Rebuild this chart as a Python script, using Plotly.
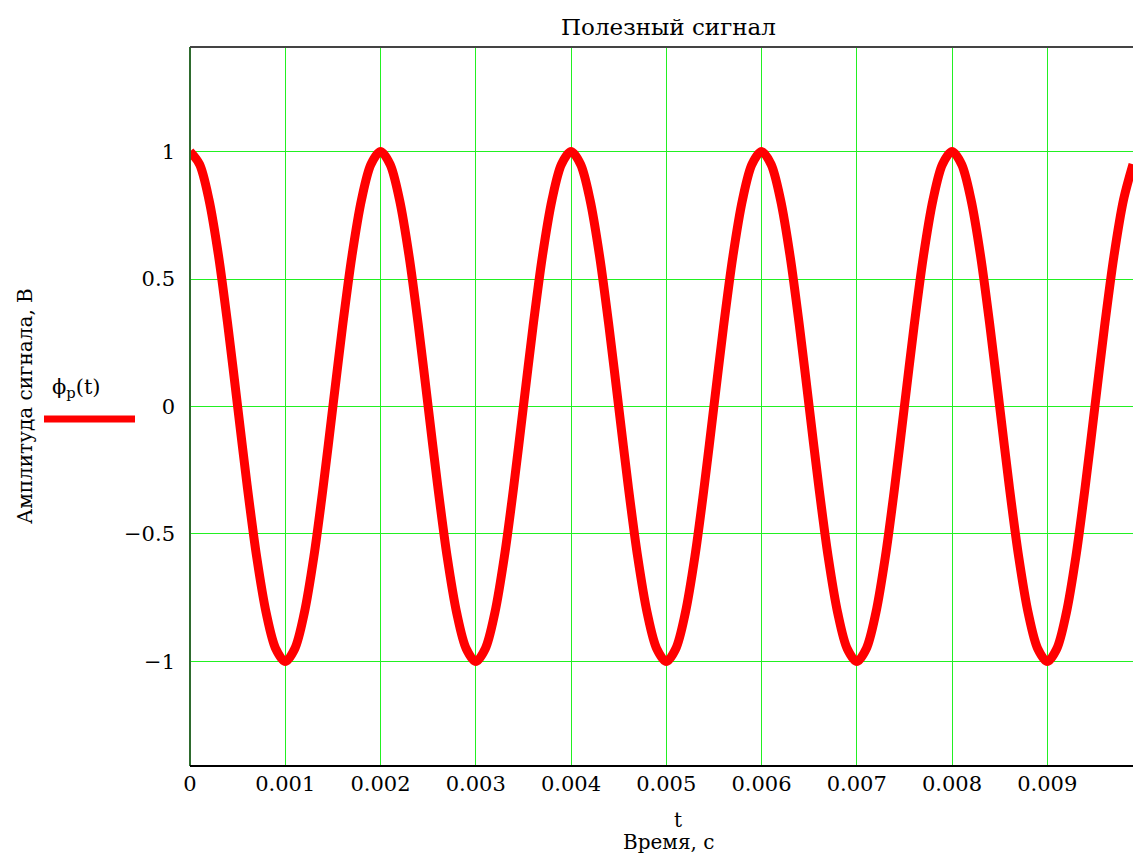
import plotly.graph_objects as go

# Sampled useful signal: amplitude readings every 0.1 ms, 0 … 9.9 ms
sample_step = 0.0001
amplitude = [
    1.00, 0.95, 0.81, 0.59, 0.31, 0.00, -0.31, -0.59, -0.81, -0.95,
    -1.00, -0.95, -0.81, -0.59, -0.31, 0.00, 0.31, 0.59, 0.81, 0.95,
    1.00, 0.95, 0.81, 0.59, 0.31, 0.00, -0.31, -0.59, -0.81, -0.95,
    -1.00, -0.95, -0.81, -0.59, -0.31, 0.00, 0.31, 0.59, 0.81, 0.95,
    1.00, 0.95, 0.81, 0.59, 0.31, 0.00, -0.31, -0.59, -0.81, -0.95,
    -1.00, -0.95, -0.81, -0.59, -0.31, 0.00, 0.31, 0.59, 0.81, 0.95,
    1.00, 0.95, 0.81, 0.59, 0.31, 0.00, -0.31, -0.59, -0.81, -0.95,
    -1.00, -0.95, -0.81, -0.59, -0.31, 0.00, 0.31, 0.59, 0.81, 0.95,
    1.00, 0.95, 0.81, 0.59, 0.31, 0.00, -0.31, -0.59, -0.81, -0.95,
    -1.00, -0.95, -0.81, -0.59, -0.31, 0.00, 0.31, 0.59, 0.81, 0.95,
]
time_s = [round(i * sample_step, 4) for i in range(len(amplitude))]

x_tick_vals = [0, 0.001, 0.002, 0.003, 0.004, 0.005, 0.006, 0.007, 0.008, 0.009]
x_tick_text = ["0", "0.001", "0.002", "0.003", "0.004", "0.005", "0.006", "0.007", "0.008", "0.009"]
y_tick_vals = [-1, -0.5, 0, 0.5, 1]
y_tick_text = ["\u22121", "\u22120.5", "0", "0.5", "1"]

title_text = "Полезный сигнал"
x_title = "t"
x_title2 = "Время, с"
y_title = "Амплитуда сигнала, В"
legend_text = "\u03d5<sub>p</sub>(t)"

W, H = 1133, 856
L, R, T, B = 190, 0, 47, 90
plot_h = H - T - B
plot_w = W - L - R
FONT = "DejaVu Serif"
TICK_FS = 21
GRID = "#22f022"


def py(pixel_y):
    """Convert a page pixel row to paper y."""
    return (H - B - pixel_y) / plot_h


def px(pixel_x):
    """Convert a page pixel column to paper x."""
    return (pixel_x - L) / plot_w


fig = go.Figure()
fig.add_trace(go.Scatter(
    x=time_s, y=amplitude, mode="lines",
    line=dict(color="#ff0000", width=9, shape="spline", smoothing=0.9),
    showlegend=False, hoverinfo="skip",
))

fig.update_layout(
    width=W, height=H,
    margin=dict(l=L, r=R, t=T, b=B),
    paper_bgcolor="white", plot_bgcolor="white",
    font=dict(family=FONT, size=TICK_FS, color="black"),
    showlegend=False,
    xaxis=dict(
        range=[0, 0.0099], tickvals=x_tick_vals, ticktext=x_tick_text,
        showgrid=True, gridcolor=GRID, gridwidth=1,
        zeroline=False, showline=False, ticks="", ticklabelstandoff=3,
        tickfont=dict(family=FONT, size=TICK_FS, color="black"),
    ),
    yaxis=dict(
        range=[-1.41, 1.41], tickvals=y_tick_vals, ticktext=y_tick_text,
        showgrid=True, gridcolor=GRID, gridwidth=1,
        zeroline=False, showline=False, ticks="", ticklabelstandoff=14,
        tickfont=dict(family=FONT, size=TICK_FS, color="black"),
    ),
)

# Frame: dark green left axis, black bottom axis, grey top border
fig.add_shape(type="line", xref="paper", yref="paper", x0=0, x1=0, y0=0, y1=1,
              line=dict(color="#2e6b2e", width=2))
fig.add_shape(type="line", xref="paper", yref="paper", x0=0, x1=1, y0=0, y1=0,
              line=dict(color="black", width=2))
fig.add_shape(type="line", xref="paper", yref="paper", x0=0, x1=1, y0=1, y1=1,
              line=dict(color="#444444", width=2))

# Titles
fig.add_annotation(text=title_text, xref="paper", yref="paper",
                   x=px(668), y=py(27), showarrow=False,
                   font=dict(family=FONT, size=23, color="black"),
                   xanchor="center", yanchor="middle")
fig.add_annotation(text=x_title, xref="paper", yref="paper",
                   x=px(678), y=py(820), showarrow=False,
                   font=dict(family=FONT, size=20, color="black"),
                   xanchor="center", yanchor="middle")
fig.add_annotation(text=x_title2, xref="paper", yref="paper",
                   x=px(668), y=py(842), showarrow=False,
                   font=dict(family=FONT, size=20, color="black"),
                   xanchor="center", yanchor="middle")
fig.add_annotation(text=y_title, xref="paper", yref="paper",
                   x=px(25), y=py(406), showarrow=False, textangle=-90,
                   font=dict(family=FONT, size=20, color="black"),
                   xanchor="center", yanchor="middle")

# Trace key on the left
fig.add_annotation(text=legend_text, xref="paper", yref="paper",
                   x=px(50), y=py(388), showarrow=False,
                   font=dict(family=FONT, size=21, color="black"),
                   xanchor="left", yanchor="middle")
fig.add_shape(type="line", xref="paper", yref="paper",
              x0=px(44), x1=px(135), y0=py(419), y1=py(419),
              line=dict(color="#ff0000", width=7))

fig.write_html("out.html")
